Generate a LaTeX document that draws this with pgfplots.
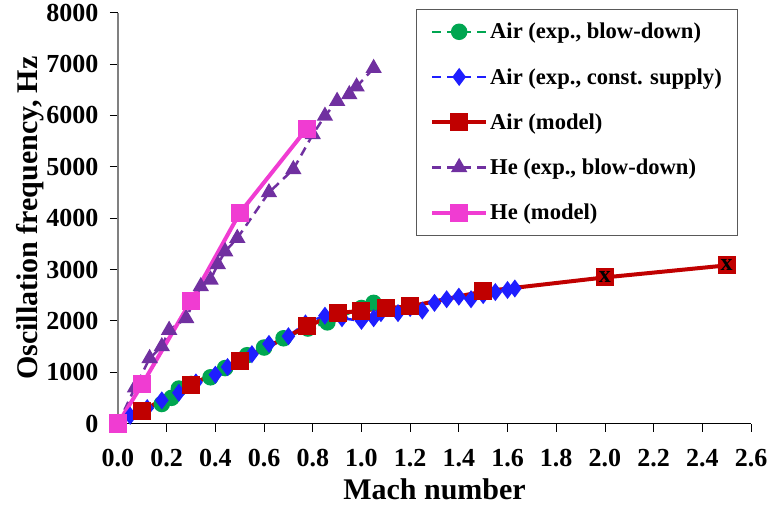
\documentclass[border=0pt]{standalone}
\usepackage{fontspec}
\setmainfont{Liberation Serif}
\usepackage{pgfplots}
\pgfplotsset{compat=1.18}
\definecolor{cgreen}{RGB}{0,166,81}
\definecolor{cblue}{RGB}{30,30,255}
\definecolor{cred}{RGB}{192,0,0}
\definecolor{cpurple}{RGB}{112,48,160}
\definecolor{cmag}{RGB}{240,60,210}
\begin{document}
\begin{tikzpicture}
\begin{axis}[
  scale only axis, width=633pt, height=410.7pt,
  xmin=0, xmax=2.6, ymin=0, ymax=8000,
  axis x line*=bottom, axis y line*=left,
  x axis line style={black, line width=1pt},
  y axis line style={gray, line width=1.2pt},
  tick align=outside, major tick length=8pt,
  every tick/.style={black, line width=0.8pt},
  xtick={0,0.2,...,2.61}, ytick={0,1000,...,8000},
  /pgf/number format/assume math mode=true,
  xticklabel style={/pgf/number format/fixed,/pgf/number format/fixed zerofill,/pgf/number format/precision=1, yshift=-14pt},
  yticklabel style={/pgf/number format/fixed,/pgf/number format/1000 sep={}, xshift=-8pt},
  every tick label/.append style={font=\bfseries\fontsize{26}{26}\selectfont},
  xlabel={Mach number}, ylabel={Oscillation frequency, Hz},
  xlabel style={at={(axis description cs:0.5,-0.16)}, anchor=center, font=\bfseries\fontsize{30}{30}\selectfont},
  ylabel style={at={(axis description cs:-0.139,0.5)}, anchor=center, font=\bfseries\fontsize{30}{30}\selectfont},
  legend style={at={(rel axis cs:0.98,1.01)}, anchor=north east, draw=gray!70!black, line width=1pt,
    font=\bfseries\fontsize{22.6}{22.6}\selectfont, row sep=24pt, inner xsep=14pt, inner ysep=12pt},
  legend cell align=left,
  legend image code/.code={\draw[mark repeat=2,mark phase=2,#1] plot coordinates {(0pt,0pt)(27pt,0pt)(54pt,0pt)};},
]
% Air exp blow-down
\addplot[cgreen, line width=2.5pt, dash pattern=on 9pt off 6pt, mark=*, mark size=7pt, mark options={solid}] coordinates {
(0,0)(0.18,380)(0.22,500)(0.25,680)(0.3,770)(0.38,900)(0.44,1080)(0.53,1330)(0.6,1480)(0.68,1660)(0.78,1850)(0.86,1970)(1.0,2250)(1.05,2350)};
\addlegendentry{Air (exp., blow-down)}
% Air exp const supply
\addplot[cblue, line width=2.5pt, dash pattern=on 9pt off 6pt, mark=diamond*, mark size=7pt, mark options={solid}] coordinates {
(0,0)(0.05,150)(0.12,300)(0.18,450)(0.25,600)(0.32,800)(0.4,950)(0.45,1100)(0.55,1350)(0.62,1550)(0.7,1700)(0.77,1950)(0.85,2100)(0.92,2050)(1.0,2000)(1.05,2050)(1.08,2150)(1.15,2150)(1.2,2250)(1.25,2200)(1.3,2350)(1.35,2420)(1.4,2470)(1.45,2420)(1.5,2500)(1.55,2560)(1.6,2600)(1.63,2630)};
\addlegendentry{Air (exp., const. supply)}
% Air model
\addplot[cred, line width=4pt, mark=square*, mark size=7pt] coordinates {
(0,0)(0.1,250)(0.3,755)(0.5,1208)(0.775,1890)(0.905,2150)(1.0,2197)(1.1,2249)(1.2,2281)(1.5,2573)(2.0,2846)(2.5,3080)};
\addlegendentry{Air (model)}
% He exp blow-down
\addplot[cpurple, line width=2.5pt, dash pattern=on 9pt off 6pt, mark=triangle*, mark size=7pt, mark options={solid}] coordinates {
(0,0)(0.07,700)(0.13,1270)(0.18,1500)(0.21,1820)(0.28,2050)(0.34,2670)(0.38,2800)(0.41,3100)(0.44,3350)(0.49,3610)(0.62,4500)(0.72,4950)(0.8,5630)(0.85,5990)(0.9,6280)(0.95,6410)(0.98,6560)(1.05,6920)};
\addlegendentry{He (exp., blow-down)}
% He model
\addplot[cmag, line width=4pt, mark=square*, mark size=7pt] coordinates {
(0,0)(0.1,768)(0.3,2392)(0.5,4100)(0.775,5740)};
\addlegendentry{He (model)}
% black x marks
\addplot[black, only marks, mark=text, text mark={\bfseries\fontsize{24}{24}\selectfont x}, forget plot] coordinates {(2.0,2846)(2.5,3080)};
\end{axis}
\pgfresetboundingbox
\path (current axis.south west) ++(-118pt,-81.5pt) rectangle ++(770pt,505pt);
\end{tikzpicture}
\end{document}
